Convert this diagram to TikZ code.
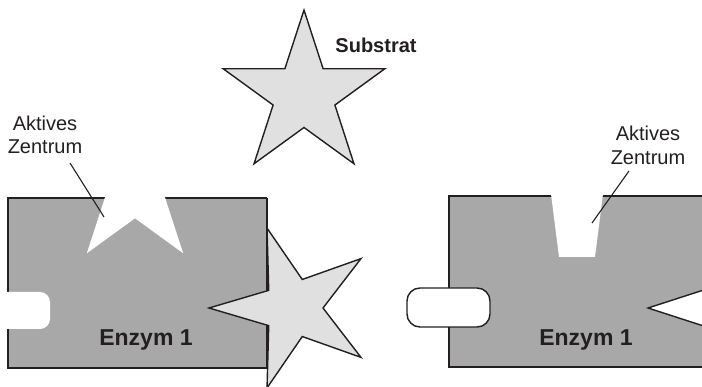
\documentclass[tikz,border=0pt]{standalone}
\usepackage{fontspec}
\setmainfont{Liberation Sans}
\definecolor{enz}{HTML}{A8A8A8}
\definecolor{sub}{HTML}{E0E0E0}
\definecolor{ink}{HTML}{231F20}
\tikzset{
  outline/.style={draw=ink, line width=1.4pt, line join=miter},
  leader/.style={draw=ink, line width=1.1pt},
  lbl/.style={font=\fontsize{20}{23}\selectfont, text=ink, inner sep=0pt, anchor=base},
  bold/.style={font=\bfseries\fontsize{23}{26}\selectfont, text=ink, inner sep=0pt, anchor=base},
}
% #1 = outer radius, #2 = rotation of first tip, #3 = inner radius
\newcommand\fivestar[3]{(#2:#1) \foreach \k in {1,...,9}{ -- ({#2+36*\k}:{ifthenelse(mod(\k,2)==1,#3,#1)}) } -- cycle}
\begin{document}
\begin{tikzpicture}[x=1pt,y=-1pt]
\useasboundingbox (0,0) rectangle (702,387);
\begin{scope}
\clip (0,0) rectangle (702,387);
% ---------- left enzyme ----------
\fill[enz] (8,198) rectangle (267,368);
\draw[outline] (8,292) -- (8,198) -- (267,198);
\draw[outline] (8,329) -- (8,368) -- (267,368) -- (267,198);
% star-shaped hole (active site)
\fill[white, shift={(135,187)}] (270:82) \foreach \k in {1,...,9}{ -- ({270+36*\k}:{ifthenelse(mod(\k,2)==1,31.3,82)}) } -- cycle;
% tab notch
\fill[white] (-5,292) -- (40,292) arc[start angle=-90,end angle=0,radius=10] -- (50,319) arc[start angle=0,end angle=90,radius=10] -- (-5,329) -- cycle;
% substrate in the enzyme
\filldraw[fill=sub, outline, shift={(293,308)}] (180:84) \foreach \k in {1,...,9}{ -- ({180+36*\k}:{ifthenelse(mod(\k,2)==1,30,84)}) } -- cycle;
% ---------- substrate ----------
\filldraw[fill=sub, outline, shift={(304,95)}] (270:85) \foreach \k in {1,...,9}{ -- ({270+36*\k}:{ifthenelse(mod(\k,2)==1,32.5,85)}) } -- cycle;
% ---------- right enzyme ----------
\fill[enz] (449,196) rectangle (712,367);
\draw[outline] (712,196) -- (449,196) -- (449,367) -- (712,367);
% trapezoid active site
\fill[white] (550.5,190) -- (559,257) -- (595,257) -- (603.5,190) -- cycle;
% star-shaped hole on the right
\filldraw[fill=white, outline, shift={(732,308)}] (180:84) \foreach \k in {1,...,9}{ -- ({180+36*\k}:{ifthenelse(mod(\k,2)==1,32,84)}) } -- cycle;
% tab
\draw[outline, fill=white, rounded corners=13pt] (407,288) rectangle (490,327);
\end{scope}
% ---------- labels ----------
\node[bold, font=\bfseries\fontsize{20}{23}\selectfont] (substrat) at (376,53) {Substrat};
\node[bold] (enzA) at (146,346) {Enzym 1};
\node[bold] (enzB) at (586,346) {Enzym 1};
\node[lbl] (akA1) at (45,131) {Aktives};
\node[lbl] (akA2) at (45,154) {Zentrum};
\node[lbl] (akB1) at (648,141) {Aktives};
\node[lbl] (akB2) at (648,165) {Zentrum};
\coordinate (la1) at (70,163);
\coordinate (la2) at (104,217);
\coordinate (lb1) at (629,171);
\coordinate (lb2) at (592,223);
\draw[leader] (la1) -- (la2);
\draw[leader] (lb1) -- (lb2);
\end{tikzpicture}
\end{document}
